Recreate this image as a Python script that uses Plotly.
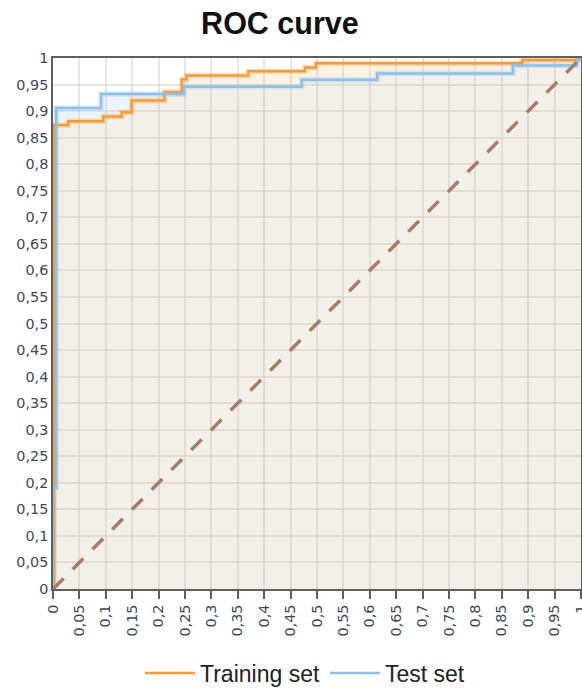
import numpy as np
import plotly.graph_objects as go

# ---- data ----
train_fpr = [0, 0.002, 0.029, 0.095, 0.130, 0.149, 0.211, 0.244, 0.253, 0.370, 0.477, 0.498, 0.889, 0.995, 1.0]
train_tpr = [0, 0.874, 0.881, 0.890, 0.898, 0.920, 0.936, 0.960, 0.967, 0.975, 0.982, 0.990, 0.996, 1.0, 1.0]

test_fpr = [0, 0.0, 0.006, 0.091, 0.248, 0.471, 0.614, 0.871, 0.992, 1.0]
test_tpr = [0, 0.19, 0.906, 0.932, 0.946, 0.959, 0.971, 0.986, 1.0, 1.0]

diag_x = [0, 1]
diag_y = [0, 1]

tick_vals = [0, 0.05, 0.1, 0.15, 0.2, 0.25, 0.3, 0.35, 0.4, 0.45, 0.5,
             0.55, 0.6, 0.65, 0.7, 0.75, 0.8, 0.85, 0.9, 0.95, 1]
tick_text = ["0", "0,05", "0,1", "0,15", "0,2", "0,25", "0,3", "0,35", "0,4", "0,45", "0,5",
             "0,55", "0,6", "0,65", "0,7", "0,75", "0,8", "0,85", "0,9", "0,95", "1"]

# ---- envelope (region under both curves) ----
def step_val(xs, ys, x):
    xs = np.asarray(xs); ys = np.asarray(ys)
    idx = np.searchsorted(xs, x, side="right") - 1
    return ys[idx]

env_x = np.unique(np.concatenate([train_fpr, test_fpr]))
env_y = np.minimum(step_val(train_fpr, train_tpr, env_x), step_val(test_fpr, test_tpr, env_x))

ORANGE = "#f39d3a"
BLUE = "#8cc0ea"

fig = go.Figure()

# fills on the lower subplot (xy)
fig.add_trace(go.Scatter(x=test_fpr, y=test_tpr, mode="lines", line=dict(width=0, shape="hv"),
                         fill="tozeroy", fillcolor="#ecf4fb", showlegend=False, hoverinfo="skip",
                         xaxis="x", yaxis="y"))
fig.add_trace(go.Scatter(x=train_fpr, y=train_tpr, mode="lines", line=dict(width=0, shape="hv"),
                         fill="tozeroy", fillcolor="#fdf3e5", showlegend=False, hoverinfo="skip",
                         xaxis="x", yaxis="y"))
fig.add_trace(go.Scatter(x=env_x, y=env_y, mode="lines", line=dict(width=0, shape="hv"),
                         fill="tozeroy", fillcolor="#f3efe9", showlegend=False, hoverinfo="skip",
                         xaxis="x", yaxis="y"))

# lines on the upper subplot (x2y2) so grid shows over the fills
fig.add_trace(go.Scatter(x=train_fpr, y=train_tpr, mode="lines",
                         line=dict(width=5.5, shape="hv", color="rgba(243,157,58,0.3)"),
                         showlegend=False, hoverinfo="skip", xaxis="x2", yaxis="y2"))
fig.add_trace(go.Scatter(x=test_fpr, y=test_tpr, mode="lines",
                         line=dict(width=5.5, shape="hv", color="rgba(140,192,234,0.3)"),
                         showlegend=False, hoverinfo="skip", xaxis="x2", yaxis="y2"))
fig.add_trace(go.Scatter(x=train_fpr, y=train_tpr, mode="lines", name="Training set",
                         line=dict(width=2.5, shape="hv", color=ORANGE), xaxis="x2", yaxis="y2"))
fig.add_trace(go.Scatter(x=test_fpr, y=test_tpr, mode="lines", name="Test set",
                         line=dict(width=2.5, shape="hv", color=BLUE), xaxis="x2", yaxis="y2"))
fig.add_trace(go.Scatter(x=diag_x, y=diag_y, mode="lines", showlegend=False,
                         line=dict(width=3.5, color="#a57d68", dash="15px,13px"),
                         xaxis="x2", yaxis="y2"))

tick_font = dict(family="DejaVu Sans", size=14.4, color="#404858")
grid_col = "rgba(200,190,178,0.38)"
line_col = "#5f5f5f"

fig.update_layout(
    width=582, height=688,
    margin=dict(l=53, r=1, t=58, b=99),
    paper_bgcolor="white",
    plot_bgcolor="rgba(0,0,0,0)",
    title=dict(text="<b>ROC curve</b>", x=0.481, xref="container", xanchor="center",
               y=1 - 23 / 688, yref="container", yanchor="middle",
               font=dict(family="Liberation Sans", size=30.5, color="#111")),
    xaxis=dict(domain=[0, 1], range=[0, 1], visible=False, fixedrange=True, automargin=False),
    yaxis=dict(domain=[0, 1], range=[0, 1], visible=False, fixedrange=True, automargin=False),
    xaxis2=dict(domain=[0, 1], anchor="y2", range=[0, 1], tickmode="array",
                tickvals=tick_vals, ticktext=tick_text, tickangle=-90,
                ticks="outside", ticklen=8, tickwidth=1.5, tickcolor=line_col,
                showline=True, linecolor=line_col, linewidth=1.5, mirror=True,
                showgrid=True, gridcolor=grid_col, gridwidth=1.5, zeroline=False,
                tickfont=tick_font, automargin=False, ticklabeloverflow="allow"),
    yaxis2=dict(domain=[0, 1], anchor="x2", range=[0, 1], tickmode="array",
                tickvals=tick_vals, ticktext=tick_text,
                ticks="", showline=True, linecolor=line_col, linewidth=1.5, mirror=True,
                showgrid=True, gridcolor=grid_col, gridwidth=1.5, zeroline=False,
                tickfont=tick_font, automargin=False, ticklabeloverflow="allow"),
    legend=dict(orientation="h", xref="container", yref="container",
                x=305 / 582, xanchor="center", y=1 - 673 / 688, yanchor="middle",
                font=dict(family="Liberation Sans", size=23, color="#222"),
                bgcolor="rgba(0,0,0,0)", itemwidth=50),
)

fig.write_html("out.html", config={"displayModeBar": False},
               post_script="document.body.style.margin='0';document.body.style.padding='0';"
                           "document.body.style.overflow='hidden';")
